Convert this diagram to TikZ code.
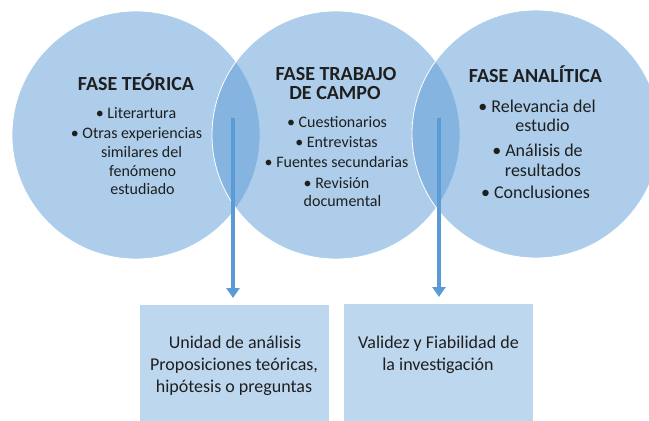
\documentclass[tikz,border=0pt]{standalone}
\usepackage{fontspec}
\setmainfont{Carlito}
\usetikzlibrary{arrows.meta}
\definecolor{accent}{HTML}{5B9BD5}
\definecolor{boxfill}{HTML}{BDD7EE}
\definecolor{txt}{HTML}{1F1F1F}
\begin{document}
\begin{tikzpicture}[x=1pt,y=-1pt,
  phase/.style={circle, minimum size=248pt, inner sep=0pt, fill=accent, fill opacity=0.5, draw=white, line width=0.8pt},
  ttl/.style={anchor=base, font=\fontsize{20}{24}\selectfont\bfseries, text=txt, inner sep=0pt},
  itm/.style={anchor=base, font=\fontsize{16}{19}\selectfont, text=txt, inner sep=0pt},
  itmL/.style={anchor=base, font=\fontsize{18}{21}\selectfont, text=txt, inner sep=0pt},
  resbox/.style={fill=boxfill, draw=none, minimum width=189pt, minimum height=130pt, inner sep=0pt, anchor=north},
  boxtxt/.style={anchor=base, font=\fontsize{18}{22}\selectfont, text=txt, inner sep=0pt},
  arr/.style={draw=accent, line width=3.2pt, -{Triangle[width=13pt,length=10pt]}}
]
\useasboundingbox (0,0) rectangle (649,421);
\clip (0,0) rectangle (649,421);
% circles
\node[phase] (c1) at (136,135) {};
\node[phase] (c2) at (336,135) {};
\node[phase] (c3) at (536,134) {};
% circle 1 text
\node[ttl] (t1) at (136,90) {FASE TEÓRICA};
\node[itm] (t1a) at (136,118) {•\ Literartura};
\node[itm] (t1b) at (136.5,138) {•\ Otras experiencias};
\node[itm] (t1c) at (141.5,157) {similares del};
\node[itm] (t1d) at (142.5,176) {fenómeno};
\node[itm] (t1e) at (142.5,194) {estudiado};
% circle 2 text
\node[ttl] (t2) at (336,80) {FASE TRABAJO};
\node[ttl] (t2b) at (335,99) {DE CAMPO};
\node[itm] (t2c) at (337,127) {•\ Cuestionarios};
\node[itm] (t2d) at (336.5,147) {•\ Entrevistas};
\node[itm] (t2e) at (336.5,167) {•\ Fuentes secundarias};
\node[itm] (t2f) at (336.5,188) {•\ Revisión};
\node[itm] (t2g) at (342.5,206) {documental};
% circle 3 text
\node[ttl] (t3) at (535.5,82) {FASE ANALÍTICA};
\node[itmL] (t3a) at (537,112) {•\ Relevancia del};
\node[itmL] (t3b) at (542.5,131) {estudio};
\node[itmL] (t3c) at (537.5,156) {•\ Análisis de};
\node[itmL] (t3d) at (543,176) {resultados};
\node[itmL] (t3e) at (535.5,198) {•\ Conclusiones};
% result boxes
\node[resbox] (box1) at (234.5,305) {};
\node[resbox] (box2) at (438,304) {};
\node[boxtxt] (b1a) at (235,348) {Unidad de análisis};
\node[boxtxt] (b1b) at (234,370) {Proposiciones teóricas,};
\node[boxtxt] (b1c) at (234,392) {hipótesis o preguntas};
\node[boxtxt] (b2a) at (438.5,348) {Validez y Fiabilidad de};
\node[boxtxt] (b2b) at (438,370) {la investigación};
% arrows
\coordinate (a1) at (233,118);
\coordinate (a2) at (439,118);
\draw[arr, shorten >=7pt] (a1) -- (a1 |- box1.north);
\draw[arr, shorten >=7pt] (a2) -- (a2 |- box2.north);
\end{tikzpicture}
\end{document}
